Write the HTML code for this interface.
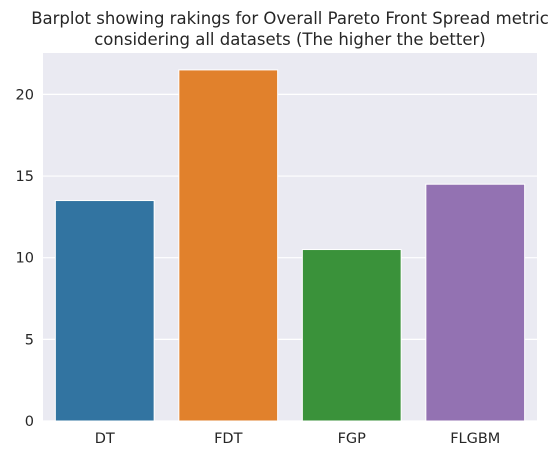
<!DOCTYPE html>
<html><head><meta charset="utf-8"><style>
body{margin:0;background:#fff;}
svg{display:block;font-family:"Liberation Sans","DejaVu Sans",sans-serif;}
</style></head><body>
<svg id="chart" width="560" height="460">
<text x="290" y="24" font-size="16.5" fill="#262626" text-anchor="middle" font-family="DejaVu Sans, sans-serif">Barplot showing rakings for Overall Pareto Front Spread metric</text>
<text x="290" y="45" font-size="16.5" fill="#262626" text-anchor="middle" font-family="DejaVu Sans, sans-serif">considering all datasets (The higher the better)</text>
<rect x="43" y="53" width="494" height="368" fill="#eaeaf2"/>
<g id="grid"></g><g id="bars"></g><g id="ticks"></g>
</svg>
<script>
const categories=["DT","FDT","FGP","FLGBM"];
const values=[13.5,21.5,10.5,14.5];
const yTicks=[0,5,10,15,20];
const colors=["#3274a1","#e1812c","#3a923a","#9372b2"];
const NS="http://www.w3.org/2000/svg";
const L=43,R=537,B=421,scale=16.33;
const y=v=>B-v*scale;
const band=(R-L)/categories.length;
const g=document.getElementById('grid'),b=document.getElementById('bars'),t=document.getElementById('ticks');
function mk(tag,a){const e=document.createElementNS(NS,tag);for(const k in a)e.setAttribute(k,a[k]);return e;}
yTicks.forEach(v=>{
 const ln=mk('line',{x1:L,x2:R,y1:y(v),y2:y(v),stroke:'#fff','stroke-width':1.2});
 
 
 g.appendChild(ln);
 const tx=mk('text',{x:L-9,y:y(v)+5,'font-size':14.5,fill:'#262626','text-anchor':'end','font-family':'DejaVu Sans, sans-serif'});
 tx.textContent=v;
 
 
 t.appendChild(tx);
});
categories.forEach((c,i)=>{
 const cx=L+band*(i+0.5),w=band*0.8;
 const r=mk('rect',{x:cx-w/2,y:y(values[i]),width:w,height:values[i]*scale,fill:colors[i],stroke:'#fff','stroke-width':1});
 
 
 b.appendChild(r);
 const tx=mk('text',{x:cx,y:B+22,'font-size':14.5,fill:'#262626','text-anchor':'middle','font-family':'DejaVu Sans, sans-serif'});
 tx.textContent=c;
 
 
 t.appendChild(tx);
});
</script>
</body></html>
